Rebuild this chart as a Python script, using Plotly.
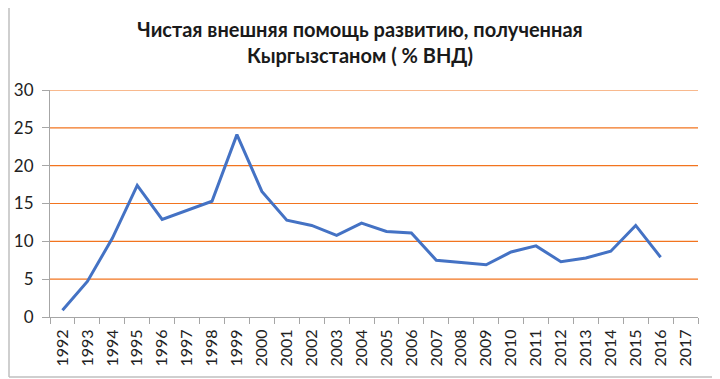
import plotly.graph_objects as go

years = [str(y) for y in range(1992, 2018)]
values = [0.9, 4.7, 10.4, 17.4, 12.9, 14.1, 15.3, 24.1, 16.6, 12.8, 12.1, 10.8, 12.4,
          11.3, 11.1, 7.5, 7.2, 6.9, 8.6, 9.4, 7.3, 7.8, 8.7, 12.1, 7.9, None]
y_ticks = [0, 5, 10, 15, 20, 25, 30]

# page has an 8px body margin; figure is sized/offset to compensate
OFF = 8
W, H = 720 - OFF, 379 - OFF
L, R, T, B = 50 - OFF, 22, 90 - OFF, 62
pw, ph = W - L - R, H - T - B

def px(x_page):
    return (x_page - OFF - L) / pw

def py(y_page):
    return (H - B - (y_page - OFF)) / ph

fig = go.Figure()
fig.add_trace(go.Scatter(x=years, y=values, mode="lines",
                         line=dict(color="#4472C4", width=3), hoverinfo="x+y"))

grid_shapes = [dict(type="line", xref="paper", yref="y", x0=0, x1=1, y0=v, y1=v,
                    line=dict(color="#F2741F", width=1.2), layer="below")
               for v in y_ticks if v > 0]

border = [
    dict(type="line", xref="paper", yref="paper", x0=px(OFF + 1), x1=px(OFF + 1),
         y0=py(377), y1=py(OFF - 5), line=dict(color="#BFBFBF", width=1.5)),
    dict(type="line", xref="paper", yref="paper", x0=px(717), x1=px(717),
         y0=py(377), y1=py(OFF - 5), line=dict(color="#BFBFBF", width=1.5)),
    dict(type="line", xref="paper", yref="paper", x0=px(OFF + 1), x1=px(717),
         y0=py(377), y1=py(377), line=dict(color="#BFBFBF", width=1.5)),
]

fig.update_layout(
    width=W, height=H,
    margin=dict(l=L, r=R, t=T, b=B, autoexpand=False),
    paper_bgcolor="white", plot_bgcolor="white",
    showlegend=False,
    title=dict(text="<b>Чистая внешняя помощь развитию, полученная<br>Кыргызстаном ( % ВНД)</b>",
               xref="container", x=(360 - OFF) / W, xanchor="center",
               yref="container", y=1 - (37 - OFF) / H, yanchor="middle",
               font=dict(family="Lato, Open Sans, sans-serif", size=20, color="#1a1a1a")),
    xaxis=dict(type="category", range=[-0.5, 25.5], tickson="boundaries",
               ticks="outside", ticklen=6, tickcolor="#A6A6A6",
               showline=True, linecolor="#A6A6A6", linewidth=1,
               showgrid=False, tickangle=-90, ticklabelstandoff=5,
               tickfont=dict(family="Lato, Open Sans, sans-serif", size=16, color="#222222")),
    yaxis=dict(range=[0, 30], tickvals=y_ticks, ticks="outside", ticklen=7,
               tickcolor="#A6A6A6", showline=True, linecolor="#A6A6A6", linewidth=1,
               showgrid=False, zeroline=False, ticklabelstandoff=5,
               tickfont=dict(family="Lato, Open Sans, sans-serif", size=17, color="#222222")),
    shapes=grid_shapes + border,
)

fig.write_html("out.html")
